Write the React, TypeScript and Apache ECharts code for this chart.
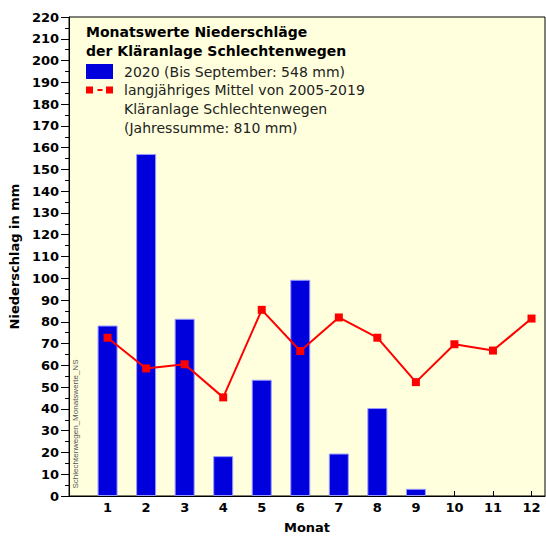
import React, { useEffect, useRef } from "react";
import * as echarts from "echarts";

const months = [1, 2, 3, 4, 5, 6, 7, 8, 9, 10, 11, 12];
const values2020 = [78.3, 157.1, 81.4, 18.3, 53.4, 99.3, 19.5, 40.4, 3.3];
const meanValues = [72.7, 58.6, 60.5, 45.3, 85.5, 66.6, 82.0, 72.7, 52.3, 69.7, 66.8, 81.5];
const titleLines = ["Monatswerte Niederschläge", "der Kläranlage Schlechtenwegen"];
const legendBar = "2020 (Bis September: 548 mm)";
const legendLine = ["langjähriges Mittel von 2005-2019", "Kläranlage Schlechtenwegen", "(Jahressumme: 810 mm)"];
const yName = "Niederschlag in mm";
const xName = "Monat";
const fileTag = "Schlechtenwegen_Monatswerte_NS";

export default function App() {
  const ref = useRef<HTMLDivElement>(null);
  useEffect(() => {
    document.body.style.margin = "0";
    const chart = echarts.init(ref.current!, undefined, { renderer: "svg" });
    const tickFont = "DejaVu Sans";
    const legFont = "DejaVu Sans";
    const graphics: any[] = [];
    titleLines.forEach((t, i) => {
      graphics.push({
        type: "text", x: 86, y: 32 + i * 19,
        style: { text: t, font: `bold 14px ${legFont}`, fill: "#000", verticalAlign: "middle" },
      });
    });
    graphics.push({ type: "rect", shape: { x: 86, y: 64, width: 27, height: 15 }, style: { fill: "#0000dd" } });
    graphics.push({ type: "text", x: 124, y: 71.5, style: { text: legendBar, font: `14px ${legFont}`, fill: "#222", verticalAlign: "middle" } });
    graphics.push({ type: "rect", shape: { x: 86, y: 86.5, width: 7, height: 7 }, style: { fill: "#ff0000" } });
    graphics.push({ type: "rect", shape: { x: 106, y: 86.5, width: 7, height: 7 }, style: { fill: "#ff0000" } });
    graphics.push({ type: "rect", shape: { x: 97.5, y: 89, width: 5, height: 2 }, style: { fill: "#ff0000" } });
    legendLine.forEach((t, i) => {
      graphics.push({ type: "text", x: 124, y: 90 + i * 19, style: { text: t, font: `14px ${legFont}`, fill: "#222", verticalAlign: "middle" } });
    });
    graphics.push({
      type: "text", x: 75, y: 424, rotation: Math.PI / 2,
      style: { text: fileTag, font: `8px Liberation Sans`, fill: "#555", align: "center", verticalAlign: "middle" },
    });
    chart.setOption({
      animation: false,
      backgroundColor: "#ffffff",
      grid: {
        left: 68, top: 17, right: 1, bottom: 40, show: true,
        backgroundColor: "#ffffdd", borderColor: "#000", borderWidth: 1,
      },
      xAxis: {
        type: "value", min: 0, max: 12.35, interval: 1,
        name: xName, nameLocation: "middle", nameGap: 25,
        nameTextStyle: { fontFamily: tickFont, fontWeight: "bold", fontSize: 13, color: "#000" },
        axisLine: { lineStyle: { color: "#000", width: 1 } },
        axisTick: { inside: true, length: 5, lineStyle: { color: "#000" } },
        splitLine: { show: false },
        axisLabel: {
          showMaxLabel: false, margin: 5,
          fontFamily: tickFont, fontWeight: "bold", fontSize: 13, color: "#000",
          formatter: (v: number) => (v >= 1 && v <= 12 && Number.isInteger(v) ? String(v) : ""),
        },
      },
      yAxis: {
        type: "value", min: 0, max: 220, interval: 10,
        name: yName, nameLocation: "middle", nameGap: 44,
        nameTextStyle: { fontFamily: tickFont, fontWeight: "bold", fontSize: 13, color: "#000" },
        axisLine: { show: true, lineStyle: { color: "#000", width: 1 } },
        axisTick: { show: true, length: 8, lineStyle: { color: "#000" } },
        minorTick: { show: true, splitNumber: 2, length: 4, lineStyle: { color: "#000" } },
        splitLine: { show: false },
        axisLabel: { margin: 10, fontFamily: tickFont, fontWeight: "bold", fontSize: 13, color: "#000" },
      },
      series: [
        {
          type: "bar", barWidth: 20,
          data: values2020.map((v, i) => [months[i], v]),
          itemStyle: { color: "#0000dd", borderColor: "#9999ff", borderWidth: 1 },
        },
        {
          type: "line", symbol: "rect", symbolSize: 8,
          data: meanValues.map((v, i) => [months[i], v]),
          itemStyle: { color: "#ff0000" },
          lineStyle: { color: "#ff0000", width: 2 },
        },
      ],
      graphic: graphics,
    });
    return () => chart.dispose();
  }, []);
  return <div ref={ref} style={{ width: 546, height: 539 }} />;
}
